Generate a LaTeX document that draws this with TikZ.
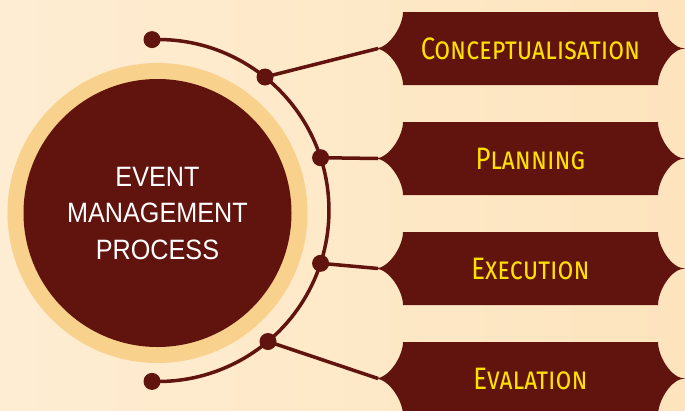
\documentclass[tikz,border=0pt]{standalone}
\usepackage{fontspec}
\usepackage{graphicx}
\newfontfamily\circfont[FakeStretch=0.9]{Liberation Sans}
\newfontfamily\banfont[Letters=SmallCaps]{Fira Sans}
\definecolor{bgL}{HTML}{FEEDD3}
\definecolor{bgR}{HTML}{FDE4BD}
\definecolor{maroon}{HTML}{61130D}
\definecolor{ring}{HTML}{F8D18C}
\definecolor{gold}{HTML}{FFE100}
\newcommand{\bantext}[1]{\scalebox{0.83}[1]{\fontsize{31}{31}\banfont #1}}
\tikzset{
  x=1pt, y=-1pt,
  dotnode/.style={circle, fill=maroon, inner sep=0pt, minimum size=17pt},
  linkline/.style={draw=maroon, line width=3.5pt},
  bantextnode/.style={anchor=base, text=gold, inner sep=0pt}
}
\begin{document}
\begin{tikzpicture}
\useasboundingbox (0,0) rectangle (685,410);
\shade[left color=bgL, right color=bgR] (0,0) rectangle (685,410);
% central circle
\fill[ring] (157.5,213) circle[radius=150];
\node[circle, fill=maroon, minimum size=268pt, inner sep=0pt] (core) at (157.5,213) {};
\node[text=white, align=center, font=\circfont\fontsize{28}{36.5}\selectfont] (title) at (157.5,213) {EVENT\\MANAGEMENT\\PROCESS};
% arc
\coordinate (e1) at (152,39.6);
\coordinate (e2) at (152,381.4);
\draw[linkline] (e1) arc[start angle=-92, end angle=92, radius=171];
\node[dotnode] (end1) at (e1) {};
\node[dotnode] (end2) at (e2) {};
% banners
\foreach \c/\n/\t in {48.5/1/Conceptualisation, 158.5/2/Planning, 268.5/3/Execution, 378.5/4/Evalation}{
  \fill[maroon] (403,\c-36.5) -- (658,\c-36.5)
     .. controls (658,\c-22.5) and (671,\c) .. (685,\c)
     .. controls (671,\c) and (658,\c+22.5) .. (658,\c+36.5)
     -- (403,\c+36.5)
     .. controls (403,\c+22.5) and (389,\c) .. (375,\c)
     .. controls (389,\c) and (403,\c-22.5) .. cycle;
  \coordinate (tip\n) at (378,\c);
  \node[bantextnode] (lab\n) at (530.5,\c+11) {\bantext{\t}};
}
% junction dots and connectors
\node[dotnode] (d1) at (265,77) {};
\node[dotnode] (d2) at (320.6,157.7) {};
\node[dotnode] (d3) at (320.6,263.3) {};
\node[dotnode] (d4) at (268,341.5) {};
\draw[linkline] (d1.center) -- (tip1);
\draw[linkline] (d2.center) -- (tip2);
\draw[linkline] (d3.center) -- (tip3);
\draw[linkline] (d4.center) -- (tip4);
\end{tikzpicture}
\end{document}
